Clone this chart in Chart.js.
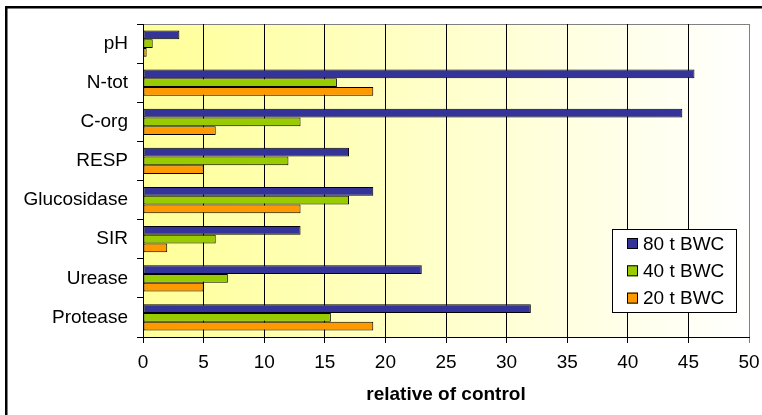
<!DOCTYPE html>
<html>
<head>
<meta charset="utf-8">
<script src="https://cdn.jsdelivr.net/npm/chart.js@4/dist/chart.umd.min.js"></script>
<style>
  body { margin: 0; background: #fff; overflow: hidden; }
  canvas { display: block; }
</style>
</head>
<body>
<canvas id="chart" width="762" height="415"></canvas>
<script>
const categories = ['pH', 'N-tot', 'C-org', 'RESP', 'Glucosidase', 'SIR', 'Urease', 'Protease'];
const seriesNames = ['80 t BWC', '40 t BWC', '20 t BWC'];
const bwc80 = [3, 45.5, 44.5, 17, 19, 13, 23, 32];
const bwc40 = [0.8, 16, 13, 12, 17, 6, 7, 15.5];
const bwc20 = [0.3, 19, 6, 5, 13, 2, 5, 19];
const xMin = 0, xMax = 50, xStep = 5;

const colors = ['#333399', '#99CC00', '#FF9900'];
const FONT = 'Liberation Sans, Arial, sans-serif';

// yellow-to-white plot background, grey frame, outer border
const frame = {
  id: 'frame',
  beforeDraw(chart) {
    const {ctx, chartArea: a} = chart;
    ctx.save();
    const g = ctx.createLinearGradient(a.left, 0, a.right, 0);
    g.addColorStop(0, '#FFFF99');
    g.addColorStop(1, '#FFFFFF');
    ctx.fillStyle = g;
    ctx.fillRect(a.left, a.top, a.right - a.left, a.bottom - a.top);
    ctx.fillStyle = '#808080';
    ctx.fillRect(a.left, a.top, a.right - a.left + 1, 1);
    ctx.fillRect(a.right, a.top, 1, a.bottom - a.top);
    // outer chart border, top and left only (the rest is cut off)
    ctx.fillStyle = '#000';
    ctx.fillRect(5, 6, chart.width - 5, 2.5);
    ctx.fillRect(5, 6, 2.5, chart.height - 6);
    ctx.restore();
  }
};

// legend box inside the plot
const boxLegend = {
  id: 'boxLegend',
  afterDraw(chart) {
    const {ctx} = chart;
    const x = 612.5, y = 229.5, w = 124, h = 83;
    ctx.save();
    ctx.fillStyle = '#fff';
    ctx.fillRect(x, y, w, h);
    ctx.strokeStyle = '#000';
    ctx.lineWidth = 1;
    ctx.strokeRect(x, y, w, h);
    ctx.font = '19px ' + FONT;
    ctx.textBaseline = 'middle';
    chart.data.datasets.forEach((ds, i) => {
      const cy = 243.5 + i * 27.3;
      ctx.fillStyle = ds.backgroundColor;
      ctx.fillRect(627, cy - 5.5, 11, 11);
      ctx.strokeRect(627.5, cy - 5, 10, 10);
      ctx.fillStyle = '#000';
      ctx.fillText(ds.label, 643, cy + 1);
    });
    // keep the strip right of the plot clean
    ctx.fillStyle = '#fff';
    ctx.fillRect(752, 9, 10, 340);
    ctx.fillRect(752, 376, 10, 39);
    ctx.restore();
  }
};

new Chart(document.getElementById('chart'), {
  type: 'bar',
  data: {
    labels: categories,
    datasets: [bwc80, bwc40, bwc20].map((d, i) => ({
      label: seriesNames[i],
      data: d,
      backgroundColor: colors[i],
      borderColor: '#000',
      borderWidth: 1,
      borderSkipped: false,
      categoryPercentage: 0.67,
      barPercentage: 1.0
    }))
  },
  options: {
    indexAxis: 'y',
    responsive: false,
    animation: false,
    layout: {padding: {top: 24, right: 13, left: 0, bottom: 0}},
    plugins: {legend: {display: false}, tooltip: {enabled: false}},
    scales: {
      x: {
        min: xMin, max: xMax,
        afterFit: s => { s.height = 78; s.paddingRight = 13; s.paddingLeft = 0; },
        ticks: {stepSize: xStep, color: '#000', padding: 8, font: {family: FONT, size: 19}},
        grid: {
          color: c => (c.tick && c.tick.value === xMax) ? '#808080' : '#000',
          tickLength: 6
        },
        border: {color: '#000'},
        title: {
          display: true, text: 'relative of control', color: '#000',
          font: {family: FONT, size: 19, weight: 'bold'},
          padding: {top: 0, bottom: 9}
        }
      },
      y: {
        afterFit: s => { s.width = 143; },
        ticks: {color: '#000', padding: 9, font: {family: FONT, size: 19}},
        grid: {offset: true, drawOnChartArea: false, color: '#000', tickLength: 6},
        border: {color: '#000'}
      }
    }
  },
  plugins: [frame, boxLegend]
});
</script>
</body>
</html>
